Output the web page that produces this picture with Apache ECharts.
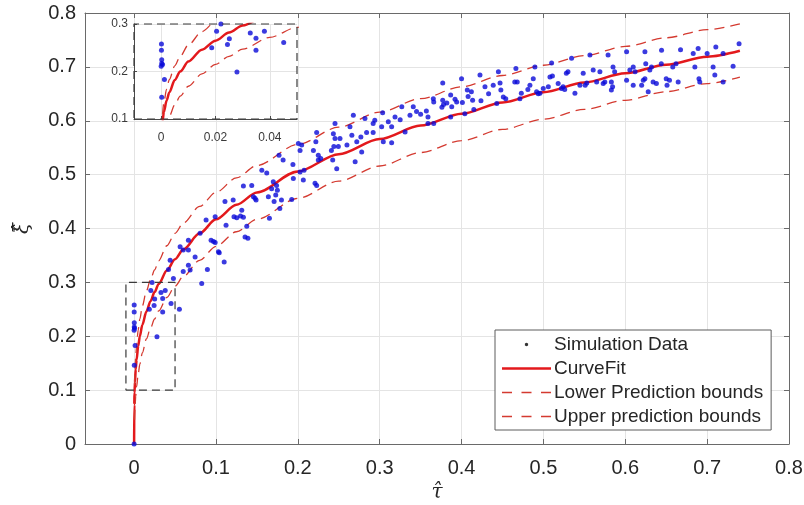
<!DOCTYPE html>
<html><head><meta charset="utf-8">
<script src="https://cdn.jsdelivr.net/npm/echarts@6/dist/echarts.min.js"></script>
<style>html,body{margin:0;padding:0;background:#fff}#c{width:804px;height:505px}</style>
</head><body><div id="c"></div>
<script>
// ---- tick labels ----
const xTicks = [0, 0.1, 0.2, 0.3, 0.4, 0.5, 0.6, 0.7, 0.8];
const yTicks = [0, 0.1, 0.2, 0.3, 0.4, 0.5, 0.6, 0.7, 0.8];
const insetXTicks = [0, 0.02, 0.04];
const insetYTicks = [0.1, 0.2, 0.3];
// ---- zoom box (data coordinates) ----
const zoomBoxTau = [-0.01, 0.05, 0.05, -0.01, -0.01];
const zoomBoxXi  = [0.1, 0.1, 0.3, 0.3, 0.1];
// ---- fitted curve and prediction bounds ----
const curveTau = [0, 0.0002, 0.0005, 0.001, 0.002, 0.003, 0.005, 0.007, 0.01, 0.015, 0.02, 0.025, 0.03, 0.04, 0.05, 0.06, 0.08, 0.1, 0.125, 0.15, 0.2, 0.25, 0.3, 0.35, 0.4, 0.45, 0.5, 0.55, 0.6, 0.65, 0.7, 0.74];
const fitXi    = [0, 0.073, 0.095, 0.115, 0.139, 0.156, 0.182, 0.200, 0.221, 0.246, 0.265, 0.282, 0.297, 0.322, 0.343, 0.361, 0.391, 0.417, 0.444, 0.467, 0.506, 0.538, 0.566, 0.591, 0.613, 0.634, 0.653, 0.671, 0.688, 0.704, 0.719, 0.730];
const boundTau = [0.0005, 0.001, 0.002, 0.003, 0.005, 0.007, 0.01, 0.015, 0.02, 0.025, 0.03, 0.04, 0.05, 0.06, 0.08, 0.1, 0.125, 0.15, 0.2, 0.25, 0.3, 0.35, 0.4, 0.45, 0.5, 0.55, 0.6, 0.65, 0.7, 0.74];
const lowerXi  = [0.045, 0.065, 0.089, 0.106, 0.130, 0.148, 0.169, 0.195, 0.215, 0.232, 0.247, 0.272, 0.293, 0.311, 0.341, 0.367, 0.394, 0.417, 0.456, 0.488, 0.516, 0.541, 0.563, 0.584, 0.603, 0.621, 0.638, 0.654, 0.669, 0.681];
const upperXi  = [0.110, 0.135, 0.163, 0.183, 0.212, 0.232, 0.256, 0.284, 0.305, 0.323, 0.340, 0.368, 0.391, 0.410, 0.441, 0.467, 0.494, 0.517, 0.556, 0.588, 0.616, 0.641, 0.663, 0.684, 0.703, 0.721, 0.738, 0.754, 0.769, 0.780];
// ---- simulation data [tau, xi] ----
const simPoints = [
[0,0],[0.0001,0.258],[0.0001,0.245],[0.0002,0.225],[0.0002,0.217],[0.0005,0.215],[0.0000,0.211],[0.0012,0.183],[0.0002,0.146],
[0.022,0.300],[0.0204,0.285],[0.0251,0.269],[0.0244,0.257],[0.0186,0.250],[0.0279,0.199],[0.0328,0.281],[0.0349,0.270],[0.038,0.285],[0.0349,0.245],[0.0451,0.261],
[0.048,0.307],[0.042,0.324],[0.044,0.341],[0.0553,0.250],[0.060,0.320],[0.0663,0.332],[0.0684,0.323],[0.0745,0.347],[0.0826,0.298],[0.0895,0.324],[0.0663,0.360],[0.060,0.360],[0.0663,0.378],[0.094,0.378],[0.103,0.357],[0.0806,0.391],[0.0562,0.366],
[0.110,0.338],[0.104,0.355],[0.097,0.376],[0.099,0.374],[0.1355,0.384],[0.139,0.382],[0.1123,0.406],[0.122,0.422],[0.1254,0.420],[0.130,0.423],[0.1335,0.421],[0.1376,0.404],[0.0879,0.416],[0.099,0.422],[0.1315,0.434],[0.121,0.453],[0.111,0.450],[0.1335,0.479],[0.1437,0.480],[0.1457,0.459],[0.149,0.453],[0.164,0.459],[0.1653,0.419],[0.178,0.437],[0.180,0.453],[0.171,0.450],[0.156,0.508],[0.162,0.503],[0.170,0.487],[0.174,0.480],[0.168,0.474],[0.175,0.471],[0.177,0.536],[0.182,0.527],[0.194,0.519],[0.1945,0.493],[0.2027,0.505],[0.2067,0.490],[0.1925,0.454],[0.221,0.484],[0.2027,0.545],[0.2047,0.555],[0.2006,0.558],[0.219,0.545],[0.223,0.578],[0.222,0.561],[0.225,0.536],[0.225,0.527],[0.241,0.545],[0.2426,0.527],[0.2475,0.511],[0.2434,0.576],[0.2454,0.595],[0.2495,0.552],[0.260,0.555],[0.2637,0.589],[0.2678,0.610],[0.272,0.561],[0.270,0.524],[0.278,0.542],[0.284,0.578],[0.282,0.604],[0.3036,0.615],[0.3044,0.561],[0.3146,0.559],[0.327,0.626],[0.331,0.579],[0.337,0.610],[0.341,0.626],[0.345,0.617],[0.350,0.612],[0.357,0.618],[0.359,0.607],[0.359,0.595],[0.366,0.635],
[0.292,0.595],[0.292,0.578],[0.294,0.601],[0.3024,0.589],[0.3105,0.598],[0.3146,0.589],[0.3187,0.607],[0.325,0.602],[0.277,0.570],[0.266,0.573],[0.2515,0.567],[0.2454,0.567],[0.244,0.552],[0.228,0.530],[0.2076,0.508],[0.223,0.480],[0.173,0.462],[0.1477,0.456],
[0.3655,0.641],[0.366,0.595],[0.377,0.670],[0.377,0.638],[0.378,0.630],[0.376,0.625],[0.382,0.633],[0.3867,0.648],[0.388,0.626],[0.3867,0.607],[0.392,0.640],[0.394,0.635],[0.400,0.678],[0.401,0.634],[0.404,0.613],[0.407,0.657],[0.408,0.645],[0.412,0.654],[0.4135,0.638],[0.415,0.621],[0.4225,0.685],[0.4237,0.637],[0.4286,0.663],[0.433,0.650],[0.4387,0.666],[0.443,0.632],[0.447,0.670],[0.445,0.691],[0.448,0.657],[0.451,0.644],[0.454,0.641],[0.465,0.672],[0.468,0.672],[0.4664,0.697],[0.4713,0.641],[0.473,0.651],[0.4835,0.666],[0.481,0.658],[0.4876,0.678],[0.4896,0.700],[0.4917,0.654],[0.4937,0.650],[0.4958,0.651],[0.4998,0.660],[0.506,0.663],[0.508,0.681],[0.511,0.683],[0.510,0.707],[0.518,0.669],[0.522,0.660],[0.524,0.663],[0.526,0.658],[0.528,0.688],[0.530,0.691],[0.5344,0.716],[0.5385,0.651],[0.5446,0.666],[0.5486,0.688],[0.551,0.666],[0.553,0.670],[0.5568,0.722],[0.5608,0.694],[0.565,0.672],[0.569,0.691],[0.573,0.669],[0.575,0.672],[0.579,0.722],[0.583,0.672],[0.5845,0.663],[0.583,0.657],[0.585,0.700],[0.587,0.691],[0.6016,0.728],[0.6016,0.675],[0.6056,0.694],[0.6097,0.700],[0.612,0.691],[0.6097,0.666],[0.620,0.666],[0.622,0.675],[0.624,0.678],[0.624,0.728],[0.625,0.706],[0.628,0.654],[0.630,0.694],[0.632,0.700],[0.634,0.672],[0.638,0.669],[0.6443,0.731],[0.644,0.706],[0.650,0.678],[0.651,0.666],[0.654,0.675],[0.658,0.700],[0.662,0.706],[0.6646,0.672],[0.6675,0.732],[0.683,0.725],[0.685,0.700],[0.689,0.734],[0.690,0.678],[0.691,0.672],[0.700,0.725],[0.7073,0.700],[0.7094,0.685],[0.7106,0.737],[0.7195,0.725],[0.7195,0.672],[0.7317,0.701],[0.739,0.743]
];
// ---- legend names ----
const names = ['Simulation Data', 'CurveFit', 'Lower Prediction bounds', 'Upper prediction bounds'];

const pairs = (xs, ys) => xs.map((x, i) => [x, ys[i]]);
const FONT = '"Liberation Sans", Arial, Helvetica, sans-serif';
const AX = '#6a6a6a';
const TXT = '#262626';
const BLUE = '#0a0ad8';
const RED = '#e3191c';
const DRED = '#d43a30';

const chart = echarts.init(document.getElementById('c'), null, {renderer: 'canvas'});

function seriesSet(xi, yi, z) {
  return [
    {name: names[0], type: 'scatter', xAxisIndex: xi, yAxisIndex: yi, z: z, data: simPoints,
     symbol: 'circle', symbolSize: 5, itemStyle: {color: BLUE}},
    {name: names[1], type: 'line', xAxisIndex: xi, yAxisIndex: yi, z: z, data: pairs(curveTau, fitXi),
     symbol: 'none', smooth: 0.3, smoothMonotone: 'x', lineStyle: {color: RED, width: 2.5}, itemStyle: {color: RED}},
    {name: names[2], type: 'line', xAxisIndex: xi, yAxisIndex: yi, z: z, data: pairs(boundTau, lowerXi),
     symbol: 'none', smooth: 0.3, smoothMonotone: 'x', lineStyle: {color: DRED, width: 1.3, type: [10, 6]}, itemStyle: {color: DRED}},
    {name: names[3], type: 'line', xAxisIndex: xi, yAxisIndex: yi, z: z, data: pairs(boundTau, upperXi),
     symbol: 'none', smooth: 0.3, smoothMonotone: 'x', lineStyle: {color: DRED, width: 1.3, type: [10, 6]}, itemStyle: {color: DRED}},
    {name: 'zoomBox', type: 'line', xAxisIndex: xi, yAxisIndex: yi, z: z + 1, data: pairs(zoomBoxTau, zoomBoxXi),
     symbol: 'none', clip: false, lineStyle: {color: '#3a3a3a', width: 1.2, type: [8, 5]}, silent: true}
  ];
}

const DASH_ICON = 'path://M0,0h10v1.4h-10Z M19.5,0h10v1.4h-10Z M39,0h10v1.4h-10Z';
const SOLID_ICON = 'path://M0,0h49v2.6h-49Z';
const DOT_ICON = 'path://M0,0h0.01v0.01h-0.01Z M49,14h0.01v0.01h-0.01Z M24.5,5.2 L26.1,6.1 L26.1,7.9 L24.5,8.8 L22.9,7.9 L22.9,6.1 Z';

const option = {
  animation: false,
  backgroundColor: '#fff',
  grid: [
    {left: 85, right: 15, top: 13, bottom: 61, show: false, containLabel: false, outerBoundsMode: 'none'},
    {left: 134, top: 24, width: 163, height: 95, show: true, backgroundColor: '#fff', borderWidth: 0, z: 10, containLabel: false, outerBoundsMode: 'none'}
  ],
  xAxis: [
    {gridIndex: 0, type: 'value', min: -0.06, max: 0.8, position: 'bottom',
     name: 'τ\u0302', nameLocation: 'middle', nameGap: 27,
     nameTextStyle: {fontFamily: '"DejaVu Serif", serif', fontStyle: 'italic', fontSize: 20, color: TXT},
     axisLine: {show: true, onZero: false, lineStyle: {color: AX, width: 1}},
     axisTick: {show: true, inside: true, length: 5, customValues: xTicks, lineStyle: {color: AX}},
     axisLabel: {customValues: xTicks, fontSize: 20, color: TXT, margin: 14, fontFamily: FONT, formatter: v => String(v)},
     splitLine: {show: true, lineStyle: {color: '#e4e4e4', width: 1}}},
    {gridIndex: 0, type: 'value', min: -0.06, max: 0.8, position: 'top',
     axisLine: {show: true, onZero: false, lineStyle: {color: AX, width: 1}},
     axisTick: {show: true, inside: true, length: 5, customValues: xTicks, lineStyle: {color: AX}},
     axisLabel: {show: false}, splitLine: {show: false}},
    {gridIndex: 1, type: 'value', min: -0.01, max: 0.05, position: 'bottom', z: 11,
     axisLine: {show: true, onZero: false, lineStyle: {color: '#4a4a4a', width: 1}},
     axisTick: {show: true, inside: true, length: 3, customValues: insetXTicks, lineStyle: {color: '#4a4a4a'}},
     axisLabel: {customValues: insetXTicks, fontSize: 12, color: '#3a3a3a', margin: 13, fontFamily: FONT, formatter: v => String(v)},
     splitLine: {show: true, lineStyle: {color: '#e4e4e4', width: 1}}}
  ],
  yAxis: [
    {gridIndex: 0, type: 'value', min: 0, max: 0.8, interval: 0.1, position: 'left',
     name: 'ξ\u0302', nameLocation: 'middle', nameGap: 52, nameRotate: 90,
     nameTextStyle: {fontFamily: '"DejaVu Serif", serif', fontStyle: 'italic', fontSize: 20, color: TXT},
     axisLine: {show: true, onZero: false, lineStyle: {color: AX, width: 1}},
     axisTick: {show: true, inside: true, length: 5, lineStyle: {color: AX}},
     axisLabel: {fontSize: 20, color: TXT, margin: 9, fontFamily: FONT, formatter: v => String(Math.round(v * 10) / 10)},
     splitLine: {show: true, lineStyle: {color: '#e4e4e4', width: 1}}},
    {gridIndex: 0, type: 'value', min: 0, max: 0.8, interval: 0.1, position: 'right',
     axisLine: {show: true, onZero: false, lineStyle: {color: AX, width: 1}},
     axisTick: {show: true, inside: true, length: 5, lineStyle: {color: AX}},
     axisLabel: {show: false}, splitLine: {show: false}},
    {gridIndex: 1, type: 'value', min: 0.1, max: 0.3, interval: 0.1, position: 'left', z: 11,
     axisLine: {show: true, onZero: false, lineStyle: {color: '#4a4a4a', width: 1}},
     axisTick: {show: true, inside: true, length: 3, lineStyle: {color: '#4a4a4a'}},
     axisLabel: {fontSize: 12, color: '#3a3a3a', margin: 6, fontFamily: FONT, formatter: v => String(Math.round(v * 10) / 10)},
     splitLine: {show: true, lineStyle: {color: '#e4e4e4', width: 1}}}
  ],
  legend: {
    orient: 'vertical', left: 495, top: 330, z: 20,
    backgroundColor: '#fff', borderColor: '#5c5c5c', borderWidth: 1, borderRadius: 0,
    padding: [5, 8, 4, 7], itemGap: 5, itemWidth: 49, itemHeight: 14,
    textStyle: {fontSize: 19, color: TXT, fontFamily: FONT, padding: [0, 0, 0, -2]},
    data: [
      {name: names[0], icon: DOT_ICON, itemStyle: {color: '#000'}},
      {name: names[1], icon: SOLID_ICON, itemStyle: {color: RED}},
      {name: names[2], icon: DASH_ICON, itemStyle: {color: DRED}},
      {name: names[3], icon: DASH_ICON, itemStyle: {color: DRED}}
    ]
  },
  series: [].concat(seriesSet(0, 0, 2), seriesSet(2, 2, 12))
};
chart.setOption(option);
</script>
</body></html>
